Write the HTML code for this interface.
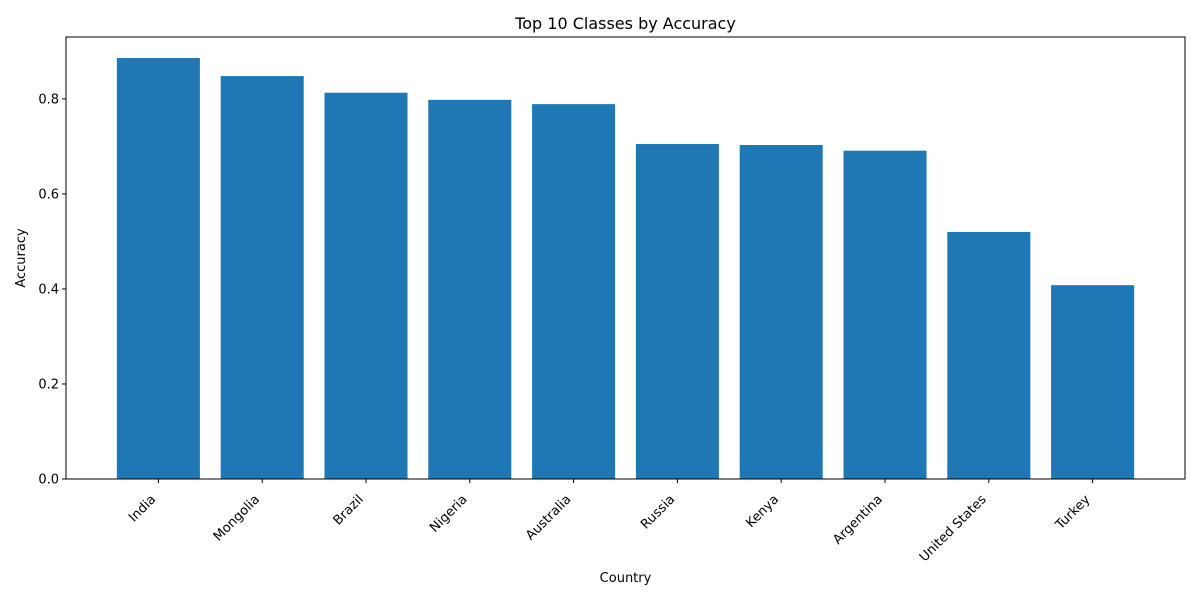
<!DOCTYPE html>
<html><head><meta charset="utf-8">
<style>
html,body{margin:0;padding:0;background:#fff;}
svg{display:block;font-family:"DejaVu Sans","Liberation Sans",sans-serif;}
</style></head>
<body>
<svg id="chart" width="1200" height="600" viewBox="0 0 1200 600">
  <text x="625.5" y="29" text-anchor="middle" font-size="16" fill="#000">Top 10 Classes by Accuracy</text>
  <g id="bars"></g>
  <g id="yaxis"></g>
  <g id="xaxis"></g>
  <rect x="66" y="37" width="1119" height="442" fill="none" stroke="#000" stroke-width="1"/>
  <text x="625.5" y="582" text-anchor="middle" font-size="13">Country</text>
  <text transform="translate(25,258) rotate(-90)" text-anchor="middle" font-size="13">Accuracy</text>
</svg>
<script>
const categories = ["India","Mongolia","Brazil","Nigeria","Australia","Russia","Kenya","Argentina","United States","Turkey"];
const accuracy = [0.886,0.848,0.813,0.798,0.789,0.705,0.703,0.691,0.520,0.408];
const yTicks = [0.0,0.2,0.4,0.6,0.8];
const yTickLabels = ["0.0","0.2","0.4","0.6","0.8"];

const NS="http://www.w3.org/2000/svg";
const L=66,R=1185,T=37,B=479;
const yMax=Math.max(...accuracy)*1.05;
const n=categories.length;
const xMin=-0.4-0.05*(n-0.2), xMax=(n-1)+0.4+0.05*(n-0.2);
function xs(v){return L+(v-xMin)/(xMax-xMin)*(R-L);}
function ys(v){return B-v/yMax*(B-T);}
function mk(tag,attrs,parent){const e=document.createElementNS(NS,tag);for(const k in attrs)e.setAttribute(k,attrs[k]);parent.appendChild(e);return e;}

const bars=document.getElementById('bars');
const xaxis=document.getElementById('xaxis');
const yaxis=document.getElementById('yaxis');
accuracy.forEach((v,i)=>{
  const x0=xs(i-0.4),x1=xs(i+0.4);
  const r=mk('rect',{x:x0,y:ys(v),width:x1-x0,height:B-ys(v),fill:'#1f77b4'},bars);
  
  
  const cx=xs(i);
  const t=mk('line',{x1:cx,x2:cx,y1:B,y2:B+4,stroke:'#000','stroke-width':1},xaxis);
  
  
  const lb=mk('text',{transform:`translate(${cx-2},${B+21}) rotate(-45)`,'text-anchor':'end','font-size':13},xaxis);
  lb.textContent=categories[i];
  
  
});
yTicks.forEach((v,i)=>{
  const y=ys(v);
  const t=mk('line',{x1:L-4,x2:L,y1:y,y2:y,stroke:'#000','stroke-width':1},yaxis);
  
  
  const lb=mk('text',{x:L-7,y:y+4.5,'text-anchor':'end','font-size':13},yaxis);
  lb.textContent=yTickLabels[i];
  
  
});
</script>
</body></html>
